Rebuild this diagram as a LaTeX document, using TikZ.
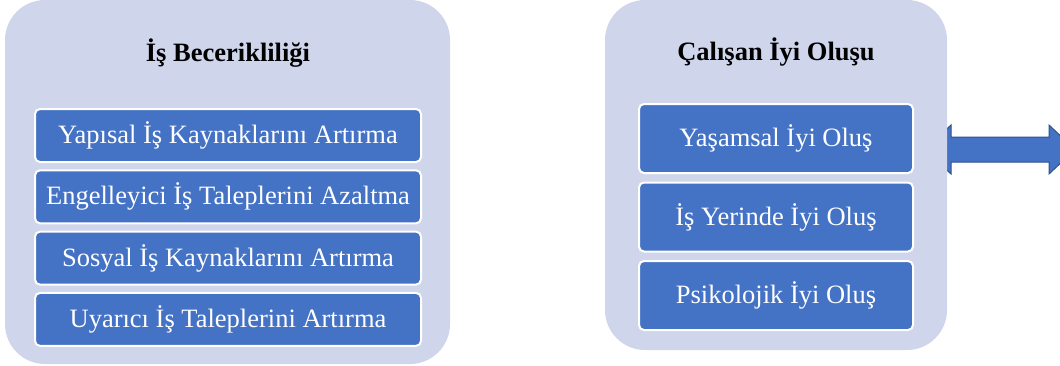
\documentclass[tikz,border=0pt]{standalone}
\usepackage{fontspec}
\setmainfont{Liberation Serif}
\usetikzlibrary{positioning}
\definecolor{panelbg}{HTML}{CFD5EA}
\definecolor{itemblue}{HTML}{4472C4}
\definecolor{arrowedge}{HTML}{2F528F}
\tikzset{
	panel/.style={fill=panelbg, rounded corners=40pt},
	paneltitle/.style={font=\rmfamily\bfseries\fontsize{26.5}{30}\selectfont},
	item/.style={fill=itemblue, draw=white, line width=2pt, rounded corners=5pt, text=white,
		font=\rmfamily\fontsize{26.5}{30}\selectfont, inner sep=0pt, minimum width=386pt, minimum height=53pt},
	itemr/.style={item, minimum width=274pt, minimum height=69pt}
}
\begin{document}
\begin{tikzpicture}[x=1pt, y=-1pt]
	\useasboundingbox (0,0) rectangle (1060,365);
	\clip (0,0) rectangle (1060,365);
	% link arrow (left end sits under the right panel)
	\fill[itemblue, draw=arrowedge, line width=1pt] (925,149.5) -- (951,125) -- (951,137) -- (1049,137) -- (1049,125)
		-- (1075,149.5) -- (1049,174) -- (1049,162) -- (951,162) -- (951,174) -- cycle;
	% left panel
	\fill[panel] (5,0) rectangle (450,364);
	\node[paneltitle] (skill) at (228,53) {İş Becerikliliği};
	\node[item] (s1) at (228,135.5) {Yapısal İş Kaynaklarını Artırma};
	\node[item, below=6.3pt of s1] (s2) {Engelleyici İş Taleplerini Azaltma};
	\node[item, below=6.3pt of s2] (s3) {Sosyal İş Kaynaklarını Artırma};
	\node[item, below=6.3pt of s3] (s4) {Uyarıcı İş Taleplerini Artırma};
	% right panel
	\fill[panel] (605,0) rectangle (947,350);
	\node[paneltitle] (well) at (776,52) {Çalışan İyi Oluşu};
	\node[itemr] (w1) at (776,138.5) {Yaşamsal İyi Oluş};
	\node[itemr, below=7.5pt of w1] (w2) {İş Yerinde İyi Oluş};
	\node[itemr, below=7.5pt of w2] (w3) {Psikolojik İyi Oluş};
\end{tikzpicture}
\end{document}
